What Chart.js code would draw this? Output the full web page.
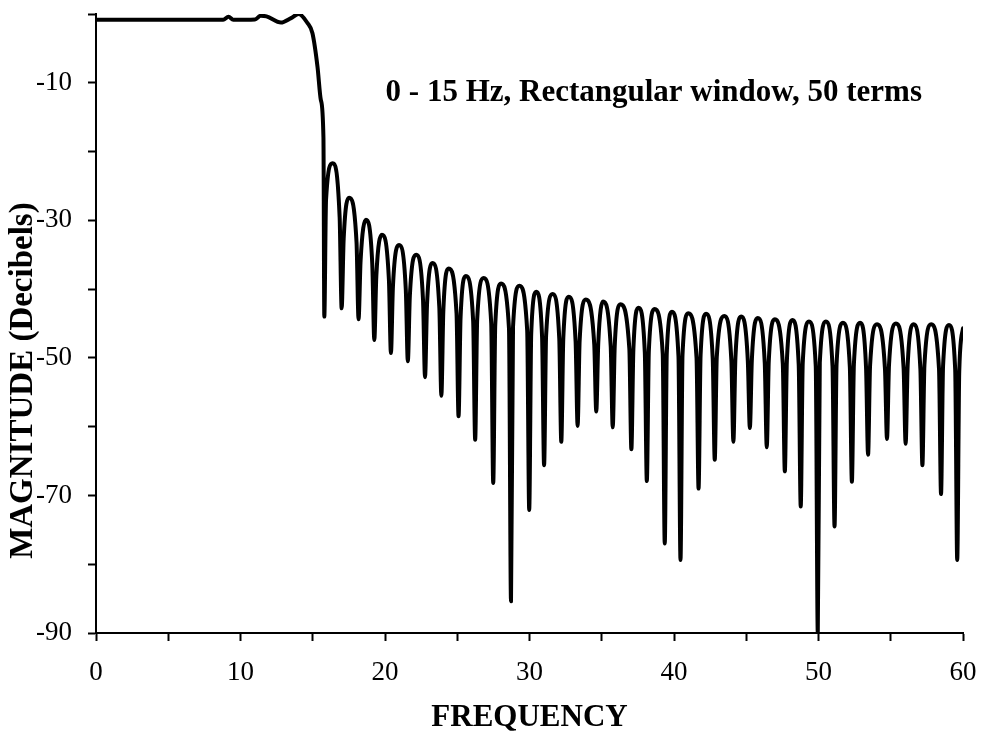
<!DOCTYPE html>
<html>
<head>
<meta charset="utf-8">
<title>Rectangular window, 50 terms</title>
<script src="https://cdn.jsdelivr.net/npm/chart.js@4/dist/chart.umd.min.js"></script>
<style>
  html, body { margin: 0; padding: 0; background: #fff; }
  #wrap { width: 984px; height: 740px; }
</style>
</head>
<body>
<div id="wrap"><canvas id="magChart" width="984" height="740"></canvas></div>
<script>
// Frequency response of a 0-15 Hz lowpass, rectangular window, 50 terms
// values: passband, then each sidelobe as null / shoulder / peak / shoulder

const freq = [
  0, 4, 8.8, 9.17, 9.5, 11.0, 11.4, 11.8, 12.8, 13.5, 14.03, 14.63, 14.98, 15.33, 15.56, 15.74, 15.80,
  15.92, 16.37, 16.86,
  17.00, 17.14, 17.52, 18.03,
  18.17, 18.31, 18.68, 19.12,
  19.26, 19.40, 19.79, 20.27,
  20.41, 20.55, 20.97, 21.44,
  21.58, 21.72, 22.16, 22.63,
  22.77, 22.91, 23.29, 23.76,
  23.90, 24.04, 24.41, 24.95,
  25.09, 25.23, 25.60, 26.10,
  26.24, 26.38, 26.83, 27.35,
  27.49, 27.63, 28.03, 28.58,
  28.72, 28.86, 29.30, 29.84,
  29.98, 30.12, 30.47, 30.87,
  31.01, 31.15, 31.60, 32.06,
  32.20, 32.34, 32.72, 33.19,
  33.33, 33.47, 33.90, 34.48,
  34.62, 34.76, 35.09, 35.62,
  35.76, 35.90, 36.30, 36.91,
  37.05, 37.19, 37.55, 37.98,
  38.12, 38.26, 38.66, 39.22,
  39.36, 39.50, 39.86, 40.31,
  40.45, 40.59, 40.99, 41.56,
  41.70, 41.84, 42.22, 42.68,
  42.82, 42.96, 43.48, 43.97,
  44.11, 44.25, 44.65, 45.11,
  45.25, 45.39, 45.80, 46.28,
  46.42, 46.56, 46.98, 47.53,
  47.67, 47.81, 48.20, 48.63,
  48.77, 48.91, 49.34, 49.81,
  49.95, 50.09, 50.51, 50.97,
  51.11, 51.25, 51.69, 52.17,
  52.31, 52.45, 52.88, 53.29,
  53.43, 53.57, 54.05, 54.60,
  54.74, 54.88, 55.36, 55.89,
  56.03, 56.17, 56.58, 57.05,
  57.19, 57.33, 57.80, 58.34,
  58.48, 58.62, 59.03, 59.46,
  59.60, 59.74, 60.0
];

const magnitude = [
  -0.85, -0.85, -0.85, -0.4, -0.85, -0.8, -0.25, -0.35, -1.25, -0.6, 0, -1.3, -2.8, -7.7, -12.5, -18, -44,
  -27, -21.7, -29.5,
  -42.8, -32.7, -26.7, -33.2,
  -44.4, -35.9, -29.9, -36.4,
  -47.4, -38.1, -32.1, -38.6,
  -49.3, -39.6, -33.6, -40.1,
  -50.5, -41.0, -35.0, -41.5,
  -52.8, -42.2, -36.2, -42.7,
  -55.5, -43.0, -37.0, -43.5,
  -58.5, -44.1, -38.1, -44.6,
  -61.9, -44.4, -38.4, -44.9,
  -68.2, -45.2, -39.2, -45.7,
  -85.4, -45.5, -39.5, -46.0,
  -72.1, -46.4, -40.4, -46.9,
  -65.6, -46.7, -40.7, -47.2,
  -62.2, -47.1, -41.1, -47.6,
  -59.9, -47.5, -41.5, -48.0,
  -57.8, -47.8, -41.8, -48.3,
  -60.1, -48.2, -42.2, -48.7,
  -63.3, -48.7, -42.7, -49.2,
  -67.9, -48.9, -42.9, -49.4,
  -77.0, -49.3, -43.3, -49.8,
  -79.4, -49.5, -43.5, -50.0,
  -69.0, -49.6, -43.6, -50.1,
  -64.8, -49.9, -43.9, -50.4,
  -62.2, -50.0, -44.0, -50.5,
  -60.2, -50.2, -44.2, -50.7,
  -63.0, -50.4, -44.4, -50.9,
  -66.5, -50.5, -44.5, -51.0,
  -71.6, -50.7, -44.7, -51.2,
  -90.0, -50.7, -44.7, -51.2,
  -74.5, -50.9, -44.9, -51.4,
  -68.0, -50.9, -44.9, -51.4,
  -64.1, -51.1, -45.1, -51.6,
  -61.8, -51.0, -45.0, -51.5,
  -62.5, -51.1, -45.1, -51.6,
  -65.6, -51.1, -45.1, -51.6,
  -69.8, -51.2, -45.2, -51.7,
  -79.4, -52.0, -45.7
];

const xTickLabels = [0, 10, 20, 30, 40, 50, 60];
const yTickLabels = [-10, -30, -50, -70, -90];
const noteText = '0 - 15 Hz, Rectangular window, 50 terms';
const yTitle = 'MAGNITUDE (Decibels)';

const serif = '"Liberation Serif", "DejaVu Serif", serif';

// note inside the plot + the y title (sits lower than the axis centre in the original)
const textPlugin = {
  id: 'texts',
  afterDraw(chart) {
    const { ctx, scales } = chart;
    ctx.save();
    ctx.fillStyle = '#000';
    ctx.textAlign = 'center';
    ctx.textBaseline = 'middle';
    ctx.font = 'bold 31px ' + serif;
    ctx.fillText(noteText, scales.x.getPixelForValue(38.6), scales.y.getPixelForValue(-11.5));
    ctx.translate(23, scales.y.getPixelForValue(-53.3));
    ctx.rotate(-Math.PI / 2);
    ctx.font = 'bold 33px ' + serif;
    ctx.fillText(yTitle, 0, 0);
    ctx.restore();
  }
};

const points = freq.map((f, i) => ({ x: f, y: magnitude[i] }));

new Chart(document.getElementById('magChart'), {
  type: 'line',
  data: {
    datasets: [{
      data: points,
      borderColor: '#000',
      borderWidth: 4,
      borderJoinStyle: 'round',
      borderCapStyle: 'round',
      pointRadius: 0,
      cubicInterpolationMode: 'monotone',
      fill: false
    }]
  },
  options: {
    responsive: false,
    animation: false,
    layout: { padding: { top: 14, right: 21, left: 0, bottom: 0 } },
    plugins: { legend: { display: false }, tooltip: { enabled: false } },
    scales: {
      x: {
        type: 'linear',
        min: 0,
        max: 60,
        afterFit: s => { s.height = 107; s.paddingLeft = 0; s.paddingRight = 0; },
        border: { display: true, color: '#000', width: 2 },
        grid: { drawOnChartArea: false, drawTicks: true, tickLength: 8, tickColor: '#000', tickWidth: 2 },
        ticks: {
          stepSize: 5,
          autoSkip: false,
          maxRotation: 0,
          padding: 16,
          color: '#000',
          font: { family: serif, size: 27 },
          callback: v => xTickLabels.includes(v) ? String(v) : ''
        },
        title: {
          display: true,
          text: 'FREQUENCY',
          color: '#000',
          font: { family: serif, size: 31, weight: 'bold' },
          padding: { top: 0, bottom: 3 }
        }
      },
      y: {
        type: 'linear',
        min: -90,
        max: 0,
        afterFit: s => { s.width = 96; s.paddingTop = 0; s.paddingBottom = 0; },
        border: { display: true, color: '#000', width: 2 },
        grid: { drawOnChartArea: false, drawTicks: true, tickLength: 8, tickColor: '#000', tickWidth: 2 },
        ticks: {
          stepSize: 10,
          autoSkip: false,
          padding: 16,
          color: '#000',
          font: { family: serif, size: 27 },
          callback: v => yTickLabels.includes(v) ? String(v) : ''
        },
        title: { display: false }
      }
    }
  },
  plugins: [textPlugin]
});
</script>
</body>
</html>
